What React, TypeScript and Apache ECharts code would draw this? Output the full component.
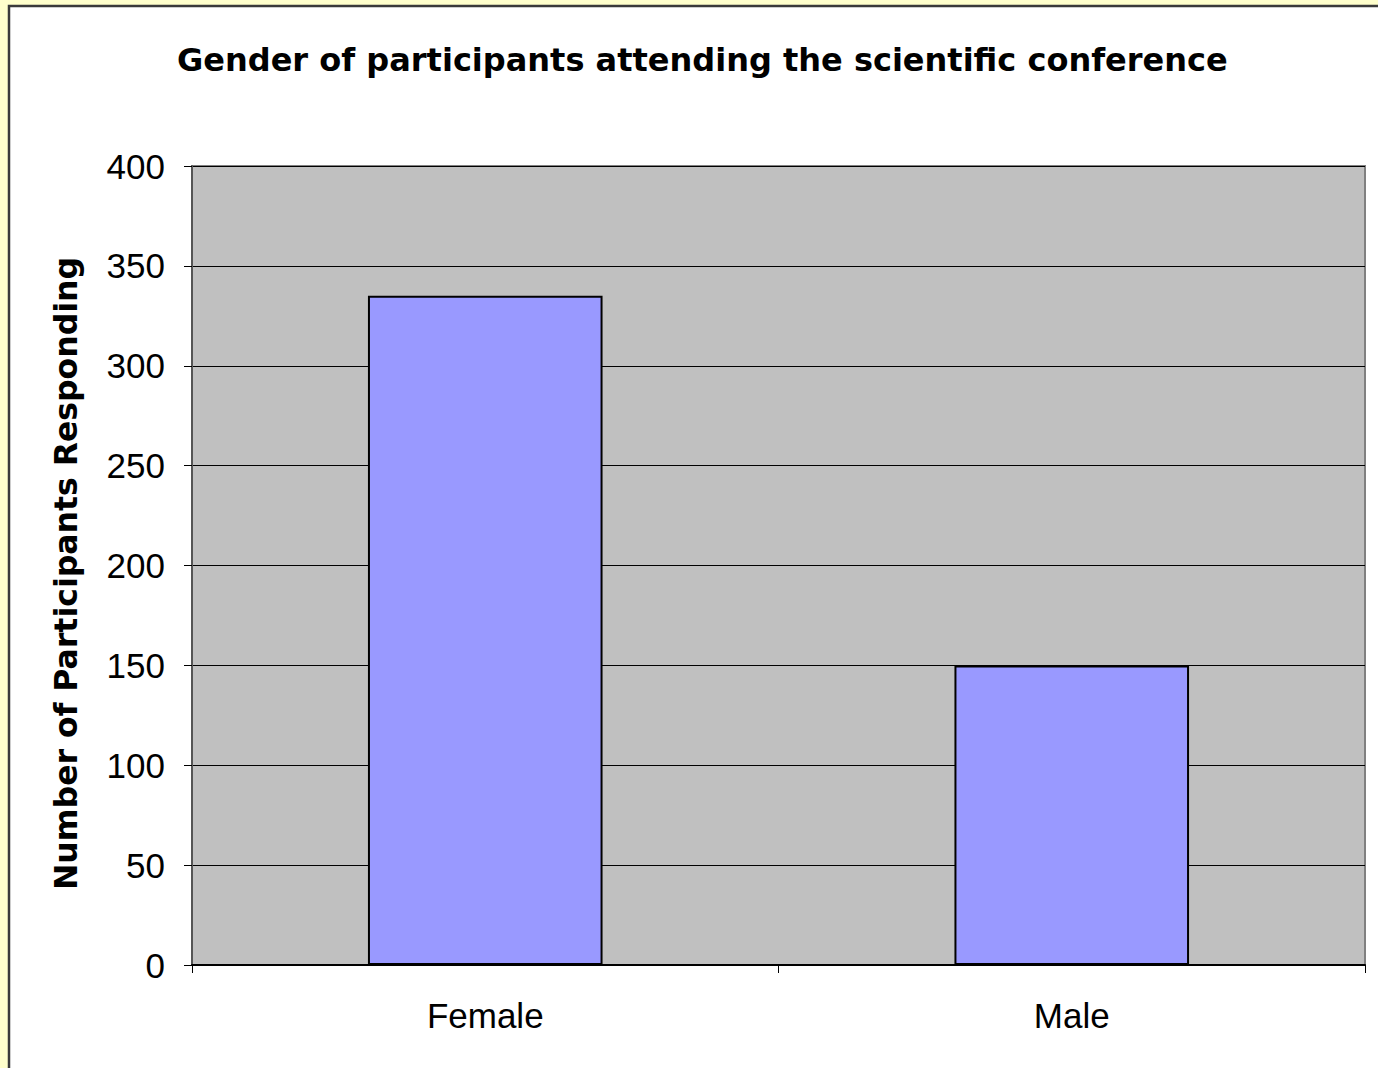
import React, { useEffect, useRef } from "react";
import * as echarts from "echarts";

const categories = ["Female", "Male"];
const values = [335, 150];
const yTicks = { min: 0, max: 400, interval: 50 };
const titleText = "Gender of participants attending the scientific conference";
const yName = "Number of Participants Responding";

export default function App() {
  const ref = useRef<HTMLDivElement>(null);
  useEffect(() => {
    const chart = echarts.init(ref.current!, null, { renderer: "svg" });
    chart.setOption({
      animation: false,
      backgroundColor: "#FFFFCC",
      graphic: [
        { type: "rect", shape: { x: 9, y: 6, width: 1380, height: 1080 }, style: { fill: "#ffffff", stroke: "#3a3a3a", lineWidth: 2.5 }, z: -10 },
      ],
      title: {
        text: titleText,
        left: 172,
        top: 39,
        textStyle: { fontFamily: "DejaVu Sans", fontWeight: "bold", fontSize: 32, color: "#000" },
      },
      grid: {
        left: 192,
        top: 166,
        right: 13,
        bottom: 103,
        show: true,
        backgroundColor: "#C0C0C0",
        borderColor: "#808080",
        borderWidth: 2,
      },
      xAxis: {
        type: "category",
        data: categories,
        axisLine: { show: true, lineStyle: { color: "#000", width: 2 } },
        axisTick: { show: true, length: 8, lineStyle: { color: "#000", width: 1 } },
        axisLabel: { margin: 33, fontFamily: "Liberation Sans, Arial", fontSize: 35, color: "#000" },
      },
      yAxis: {
        type: "value",
        min: yTicks.min,
        max: yTicks.max,
        interval: yTicks.interval,
        name: yName,
        nameLocation: "middle",
        nameGap: 110,
        nameTextStyle: { fontFamily: "DejaVu Sans", fontWeight: "bold", fontSize: 31.5, color: "#000", padding: [0, 16, 0, 0] },
        axisLine: { show: true, lineStyle: { color: "#555", width: 2 } },
        axisTick: { show: true, length: 8, lineStyle: { color: "#000", width: 1 } },
        axisLabel: { margin: 27, fontFamily: "Liberation Sans, Arial", fontSize: 35, color: "#000" },
        splitLine: { show: true, lineStyle: { color: "#000", width: 1 } },
      },
      series: [
        {
          type: "bar",
          data: values,
          barWidth: "40%",
          itemStyle: { color: "#9999FF", borderColor: "#000", borderWidth: 2 },
        },
      ],
    });
    return () => chart.dispose();
  }, []);
  return (
    <div
      ref={ref}
      style={{ position: "absolute", left: 0, top: 0, width: 1378, height: 1068 }}
    />
  );
}
